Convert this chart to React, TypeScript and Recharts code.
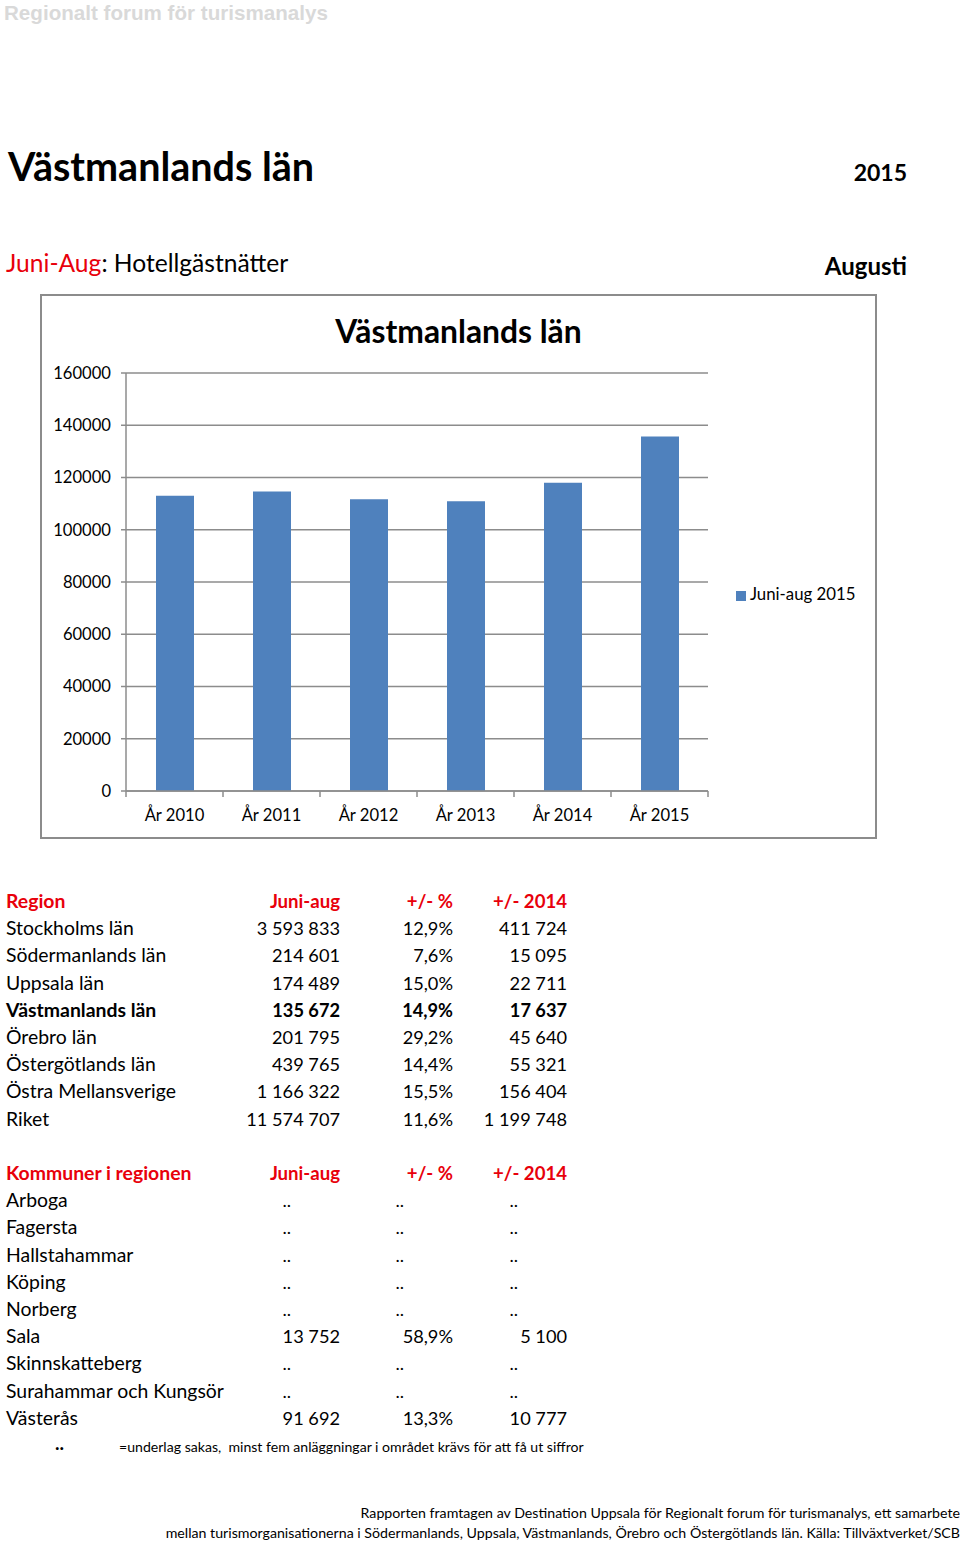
import React from 'react';
import { BarChart, Bar, XAxis, YAxis, CartesianGrid, Legend } from 'recharts';

const years = ['År 2010', 'År 2011', 'År 2012', 'År 2013', 'År 2014', 'År 2015'];
const nights = [113000, 114600, 111700, 110900, 118035, 135672];
const yTicks = [0, 20000, 40000, 60000, 80000, 100000, 120000, 140000, 160000];

const regions = ['Stockholms län', 'Södermanlands län', 'Uppsala län', 'Västmanlands län', 'Örebro län', 'Östergötlands län', 'Östra Mellansverige', 'Riket'];
const regionJuniAug = ['3 593 833', '214 601', '174 489', '135 672', '201 795', '439 765', '1 166 322', '11 574 707'];
const regionPct = ['12,9%', '7,6%', '15,0%', '14,9%', '29,2%', '14,4%', '15,5%', '11,6%'];
const regionDiff = ['411 724', '15 095', '22 711', '17 637', '45 640', '55 321', '156 404', '1 199 748'];

const kommuner = ['Arboga', 'Fagersta', 'Hallstahammar', 'Köping', 'Norberg', 'Sala', 'Skinnskatteberg', 'Surahammar och Kungsör', 'Västerås'];
const kommunJuniAug = ['..', '..', '..', '..', '..', '13 752', '..', '..', '91 692'];
const kommunPct = ['..', '..', '..', '..', '..', '58,9%', '..', '..', '13,3%'];
const kommunDiff = ['..', '..', '..', '..', '..', '5 100', '..', '..', '10 777'];

const chartData = years.map((year, i) => ({ year, value: nights[i] }));

const FONT = 'Lato, "Open Sans", sans-serif';
const RED = '#e8000b';
const BAND = 97;

const XTick = (props: any) => {
  const { x, y, payload, index } = props;
  const left = x - BAND / 2;
  return (
    <g>
      <line x1={left} y1={791 - 295} x2={left} y2={797 - 295} stroke="#8c8c8c" strokeWidth={1.5} />
      {index === years.length - 1 && (
        <line x1={x + BAND / 2} y1={791 - 295} x2={x + BAND / 2} y2={797 - 295} stroke="#8c8c8c" strokeWidth={1.5} />
      )}
      <text x={x} y={y + 22} textAnchor="middle" fill="#000" fontSize={16.6} fontFamily={FONT}>
        {payload.value}
      </text>
    </g>
  );
};

const Table = ({ top, header, names, a, b, c, boldRow }: any) => {
  const rowH = 27.2;
  const cell = (txt: string, right: number, row: number, bold: boolean, color = '#000') => {
    const dots = txt === '..';
    return (
      <div
        key={`${right}-${row}`}
        style={{
          position: 'absolute',
          top: top + row * rowH - 12,
          right: dots ? 960 - right + 49 : 960 - right,
          fontSize: row === 0 ? 18.6 : 18.2,
          fontWeight: bold ? 700 : 400,
          color,
          whiteSpace: 'nowrap',
          lineHeight: '24px',
        }}
      >
        {txt}
      </div>
    );
  };
  return (
    <>
      <div style={{ position: 'absolute', left: 6, top: top - 12, fontSize: 19.4, fontWeight: 700, color: RED, lineHeight: '24px' }}>{header}</div>
      {cell('Juni-aug', 340, 0, true, RED)}
      {cell('+/- %', 453, 0, true, RED)}
      {cell('+/- 2014', 567, 0, true, RED)}
      {names.map((n: string, i: number) => (
        <React.Fragment key={n}>
          <div style={{ position: 'absolute', left: 6, top: top + (i + 1) * rowH - 12, fontSize: 19.4, fontWeight: i === boldRow ? 700 : 400, lineHeight: '24px', whiteSpace: 'nowrap' }}>{n}</div>
          {cell(a[i], 340, i + 1, i === boldRow)}
          {cell(b[i], 453, i + 1, i === boldRow)}
          {cell(c[i], 567, i + 1, i === boldRow)}
        </React.Fragment>
      ))}
    </>
  );
};

export default function App() {
  return (
    <div style={{ position: 'absolute', left: 0, top: 0, width: 960, height: 1543, background: '#fff', fontFamily: FONT, color: '#000', overflow: 'hidden' }}>
      <div style={{ position: 'absolute', left: 4, top: 0, fontFamily: '"Liberation Sans", Arial, sans-serif', fontWeight: 700, fontSize: 20.6, color: '#d9d9d9', lineHeight: '26px' }}>
        Regionalt forum för turismanalys
      </div>

      <div style={{ position: 'absolute', left: 8, top: 141, fontSize: 39.5, fontWeight: 700, lineHeight: '50px' }}>Västmanlands län</div>
      <div style={{ position: 'absolute', right: 53, top: 157, fontSize: 23, fontWeight: 700, lineHeight: '30px' }}>2015</div>

      <div style={{ position: 'absolute', left: 6, top: 247, fontSize: 24.6, lineHeight: '32px' }}>
        <span style={{ color: RED }}>Juni-Aug</span>: Hotellgästnätter
      </div>
      <div style={{ position: 'absolute', right: 53, top: 250, fontSize: 24, fontWeight: 700, lineHeight: '32px' }}>Augusti</div>

      <div style={{ position: 'absolute', left: 40, top: 294, width: 837, height: 545, border: '2px solid #8c8c8c', boxSizing: 'border-box' }} />
      <div style={{ position: 'absolute', left: 41, top: 310, width: 835, textAlign: 'center', fontSize: 31.8, fontWeight: 700, lineHeight: '42px' }}>
        Västmanlands län
      </div>

      <div style={{ position: 'absolute', left: 41, top: 295 }}>
        <BarChart width={835} height={543} data={chartData} margin={{ top: 78, right: 28, bottom: 0, left: 25 }} barCategoryGap={0}>
          <CartesianGrid vertical={false} stroke="#8c8c8c" strokeWidth={1.5} />
          <XAxis
            dataKey="year"
            height={47}
            axisLine={{ stroke: '#8c8c8c', strokeWidth: 1.5 }}
            tickLine={false}
            tick={<XTick />}
            interval={0}
          />
          <YAxis
            width={60}
            domain={[0, 160000]}
            ticks={yTicks}
            interval={0}
            axisLine={{ stroke: '#8c8c8c', strokeWidth: 1.5 }}
            tickLine={{ stroke: '#8c8c8c', strokeWidth: 1.5 }}
            tickSize={5}
            tickMargin={10}
            tick={{ fill: '#000', fontSize: 16.6, fontFamily: FONT }}
          />
          <Legend
            layout="vertical"
            align="right"
            verticalAlign="top"
            iconType="square"
            iconSize={10}
            wrapperStyle={{ left: 695, top: 288, width: 140, fontSize: 16.8, fontFamily: FONT }}
            formatter={(v: string) => <span style={{ color: '#000' }}>{v}</span>}
          />
          <Bar dataKey="value" name="Juni-aug 2015" fill="#4f81bd" barSize={38} isAnimationActive={false} />
        </BarChart>
      </div>

      <Table top={901} header="Region" names={regions} a={regionJuniAug} b={regionPct} c={regionDiff} boldRow={3} />
      <Table top={1173} header="Kommuner i regionen" names={kommuner} a={kommunJuniAug} b={kommunPct} c={kommunDiff} boldRow={-1} />

      <div style={{ position: 'absolute', left: 55, top: 1433, fontSize: 19, lineHeight: '20px', fontWeight: 700 }}>..</div>
      <div style={{ position: 'absolute', left: 119, top: 1439, fontSize: 14.1, lineHeight: '16px', whiteSpace: 'nowrap' }}>
        =underlag sakas,&nbsp; minst fem anläggningar i området krävs för att få ut siffror
      </div>

      <div style={{ position: 'absolute', right: 0, top: 1505, fontSize: 14.2, lineHeight: '16px', whiteSpace: 'nowrap', textAlign: 'right' }}>
        Rapporten framtagen av Destination Uppsala för Regionalt forum för turismanalys, ett samarbete
      </div>
      <div style={{ position: 'absolute', right: 0, top: 1525, fontSize: 14.2, lineHeight: '16px', whiteSpace: 'nowrap', textAlign: 'right' }}>
        mellan turismorganisationerna i Södermanlands, Uppsala, Västmanlands, Örebro och Östergötlands län. Källa: Tillväxtverket/SCB
      </div>
    </div>
  );
}
